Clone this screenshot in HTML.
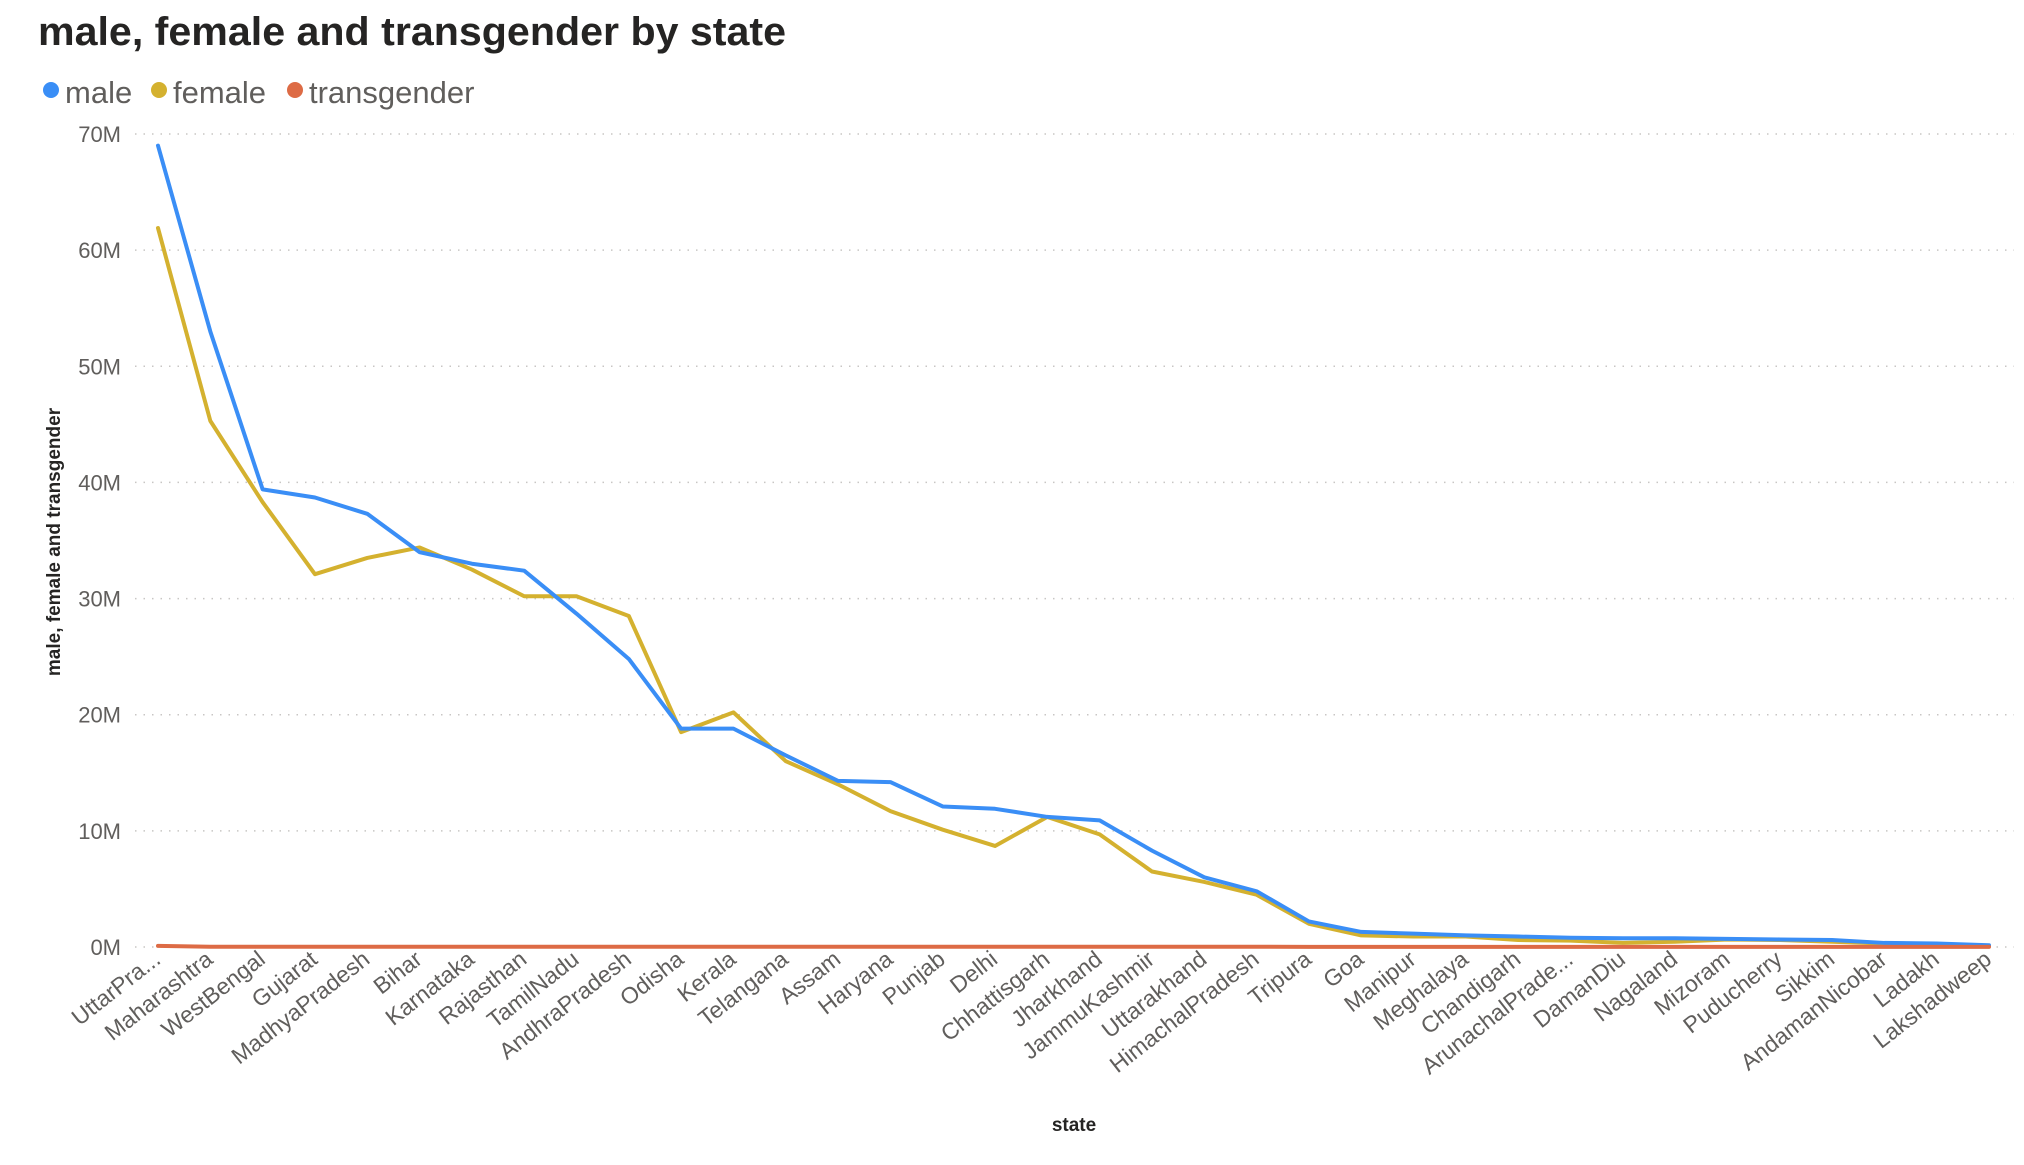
<!DOCTYPE html>
<html><head><meta charset="utf-8"><style>
body{margin:0;background:#fff;width:2024px;height:1160px;overflow:hidden;font-family:"Liberation Sans",sans-serif}
</style></head><body>
<svg id="chart" width="2024" height="1160" xmlns="http://www.w3.org/2000/svg">
<text x="38" y="45" font-size="40" font-weight="bold" fill="#252423" textLength="748" lengthAdjust="spacingAndGlyphs">male, female and transgender by state</text>
<g>
<g><circle cx="51" cy="90" r="8" fill="#3A8EF6"/><text x="65" y="103" font-size="31" fill="#605E5C">male</text></g>
<g><circle cx="159" cy="90" r="8" fill="#D4B12F"/><text x="173" y="103" font-size="31" fill="#605E5C">female</text></g>
<g><circle cx="295" cy="90" r="8" fill="#DD6B45"/><text x="309" y="103" font-size="31" fill="#605E5C">transgender</text></g>
</g>
<text transform="translate(60,542) rotate(-90)" text-anchor="middle" font-size="19" font-weight="bold" fill="#252423">male, female and transgender</text>
<text x="1074" y="1131" text-anchor="middle" font-size="19" font-weight="bold" fill="#252423">state</text>
<g id="grid"></g><g id="yticks"></g><g id="xticks"></g><g id="lines"></g>
</svg>
<script>
const states=["UttarPra...","Maharashtra","WestBengal","Gujarat","MadhyaPradesh","Bihar","Karnataka","Rajasthan","TamilNadu","AndhraPradesh","Odisha","Kerala","Telangana","Assam","Haryana","Punjab","Delhi","Chhattisgarh","Jharkhand","JammuKashmir","Uttarakhand","HimachalPradesh","Tripura","Goa","Manipur","Meghalaya","Chandigarh","ArunachalPrade...","DamanDiu","Nagaland","Mizoram","Puducherry","Sikkim","AndamanNicobar","Ladakh","Lakshadweep"];
const male=[69,53,39.4,38.7,37.3,34,33,32.4,28.7,24.8,18.8,18.8,16.5,14.3,14.2,12.1,11.9,11.2,10.9,8.3,6,4.8,2.2,1.3,1.15,1.0,0.9,0.8,0.75,0.75,0.7,0.65,0.6,0.35,0.3,0.15];
const female=[61.9,45.3,38.3,32.1,33.5,34.4,32.5,30.2,30.2,28.5,18.5,20.2,16,14,11.7,10.1,8.7,11.2,9.7,6.5,5.6,4.5,2.0,1.0,0.9,0.9,0.6,0.55,0.35,0.45,0.65,0.6,0.45,0.3,0.2,0.1];
const transgender=[0.1,0.02,0.02,0.02,0.02,0.02,0.02,0.02,0.02,0.02,0.02,0.02,0.02,0.02,0.02,0.02,0.02,0.02,0.02,0.02,0.02,0.02,0.01,0.01,0.01,0.01,0.01,0.01,0.01,0.01,0.01,0.01,0.01,0.01,0.01,0.01];
const yTicks=[0,10,20,30,40,50,60,70];
const NS="http://www.w3.org/2000/svg";
const x0=158,x1=1989,y0=947,yTop=134;
const xs=i=>x0+i*(x1-x0)/(states.length-1);
const ys=v=>y0-(v/70)*(y0-yTop);
function mk(t,p,a){const e=document.createElementNS(NS,t);for(const k in a)e.setAttribute(k,a[k]);p.appendChild(e);return e;}
const grid=document.getElementById('grid'),yt=document.getElementById('yticks'),xt=document.getElementById('xticks'),ln=document.getElementById('lines');
yTicks.forEach(v=>{
 const l=mk('line',grid,{x1:135,x2:2014,y1:ys(v),y2:ys(v),stroke:'#C8C6C4','stroke-width':1.5,'stroke-dasharray':'1.5 7'});
 
 
 const t=mk('text',yt,{x:121,y:ys(v)+8,'text-anchor':'end','font-size':22,fill:'#605E5C'});
 t.textContent=v+'M';
 
 
});
states.forEach((s,i)=>{
 const t=mk('text',xt,{transform:`translate(${xs(i)+4},${962}) rotate(-38)`,'text-anchor':'end','font-size':23,fill:'#605E5C'});
 t.textContent=s;
 
 
});
[[female,'#D4B12F','female'],[male,'#3A8EF6','male'],[transgender,'#DD6B45','transgender']].forEach(([d,c,n])=>{
 const p=mk('polyline',ln,{points:d.map((v,i)=>xs(i)+','+ys(v)).join(' '),fill:'none',stroke:c,'stroke-width':4,'stroke-linejoin':'round','stroke-linecap':'round'});
 
 
});
</script>
</body></html>
